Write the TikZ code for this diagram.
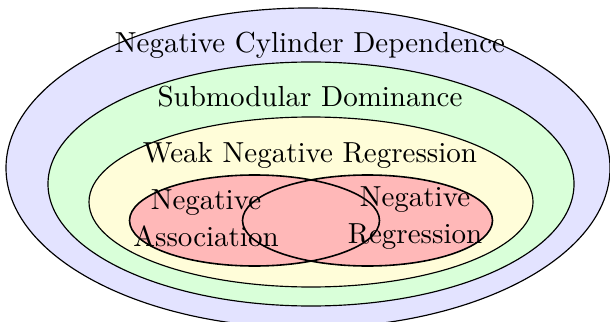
\documentclass[tikz,border=0pt]{standalone}
\begin{document}
\begin{tikzpicture}[x=0.345pt,y=-0.345pt,
  lbl/.style={font=\fontsize{10}{12.8}\selectfont, align=center, inner sep=0pt},
  ring/.style={draw=black, thin}]
\useasboundingbox (0,0) rectangle (610,321);
\begin{scope}
\clip (0,0) rectangle (610,321);
\filldraw[ring, fill=blue!11] (308,168) ellipse (302 and 160);
\end{scope}
\filldraw[ring, fill=green!15] (311,184) ellipse (263 and 122);
\filldraw[ring, fill=yellow!15] (311,202) ellipse (222 and 85);
\fill[red!28] (254.5,220.5) ellipse (125 and 45.5);
\fill[red!28] (367.5,220.5) ellipse (125 and 45.5);
\draw[line width=0.55pt] (254.5,220.5) ellipse (125 and 45.5);
\draw[line width=0.55pt] (367.5,220.5) ellipse (125 and 45.5);
\node[lbl] (ncd) at (310,45) {Negative Cylinder Dependence};
\node[lbl] (sd) at (310,97) {Submodular Dominance};
\node[lbl] (wnr) at (310,155) {Weak Negative Regression};
\node[lbl] (na) at (206,218) {Negative\\Association};
\node[lbl] (nr) at (415,218) {Negative\\Regression};
\end{tikzpicture}
\end{document}
